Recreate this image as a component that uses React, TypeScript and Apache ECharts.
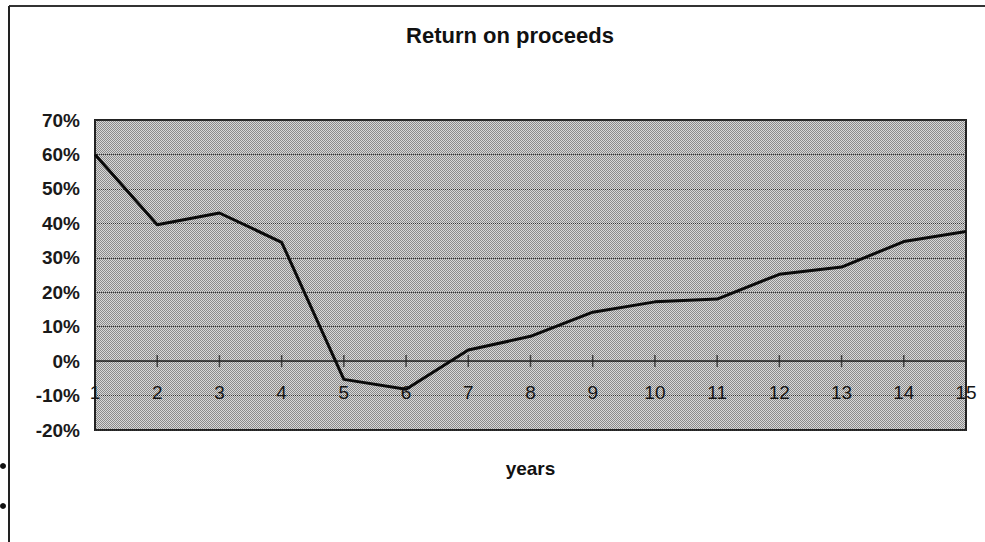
import React, { useEffect, useRef } from "react";
import * as echarts from "echarts";

const years = ["1", "2", "3", "4", "5", "6", "7", "8", "9", "10", "11", "12", "13", "14", "15"];
const returnOnProceeds = [60, 39.6, 43, 34.5, -5.3, -8.2, 3.2, 7.2, 14.2, 17.2, 18, 25.2, 27.3, 34.7, 37.6];
const yMin = -20;
const yMax = 70;
const yStep = 10;

function makePattern(): HTMLCanvasElement {
  const c = document.createElement("canvas");
  c.width = 2;
  c.height = 2;
  const ctx = c.getContext("2d")!;
  ctx.fillStyle = "#d8d8d8";
  ctx.fillRect(0, 0, 2, 2);
  ctx.fillStyle = "#8a8a8a";
  ctx.fillRect(0, 0, 1, 1);
  ctx.fillRect(1, 1, 1, 1);
  return c;
}

export default function App() {
  const ref = useRef<HTMLDivElement>(null);
  useEffect(() => {
    if (!ref.current) return;
    const chart = echarts.init(ref.current, undefined, { renderer: "svg" });
    const font = "Liberation Sans, Arial, sans-serif";
    const tickData = years.map((y) => [y, 0]);
    chart.setOption({
      animation: false,
      backgroundColor: "#ffffff",
      title: {
        text: "Return on proceeds",
        left: 505,
        textAlign: "center",
        top: 19,
        textStyle: { fontFamily: font, fontSize: 22, fontWeight: "bold", color: "#111" },
      },
      grid: {
        left: 95,
        right: 19,
        top: 120,
        bottom: 112,
        show: true,
        outerBoundsMode: "none",
        containLabel: false,
        backgroundColor: { image: makePattern(), repeat: "repeat" },
        borderColor: "#222",
        borderWidth: 2,
      },
      xAxis: {
        type: "category",
        data: years,
        boundaryGap: false,
        position: "bottom",
        name: "years",
        nameLocation: "middle",
        nameGap: 29,
        nameTextStyle: { fontFamily: font, fontSize: 19, fontWeight: "bold", color: "#111" },
        axisLine: { onZero: false, show: false },
        axisTick: { show: false },
        axisLabel: { margin: -47, fontFamily: font, fontSize: 19, color: "#151515", interval: 0 },
        splitLine: { show: false },
      },
      yAxis: {
        type: "value",
        min: yMin,
        max: yMax,
        interval: yStep,
        axisLine: { show: false },
        axisTick: { show: false },
        axisLabel: {
          formatter: "{value}%",
          margin: 15,
          fontFamily: font,
          fontSize: 19,
          fontWeight: "bold",
          color: "#1a1a1a",
        },
        splitLine: { show: true, lineStyle: { color: "#333", type: "dotted", width: 1 } },
      },
      series: [
        {
          type: "scatter",
          data: tickData,
          symbol: "rect",
          symbolSize: [1.5, 12],
          itemStyle: { color: "#222" },
          silent: true,
          z: 3,
          markLine: {
            silent: true,
            symbol: "none",
            label: { show: false },
            lineStyle: { color: "#222", type: "solid", width: 1.5 },
            data: [{ yAxis: 0 }],
          },
        },
        {
          type: "line",
          data: returnOnProceeds,
          symbol: "none",
          lineStyle: { color: "#0a0a0a", width: 3 },
          z: 5,
        },
      ],
      graphic: [
        { type: "line", shape: { x1: 9, y1: 6, x2: 985, y2: 6 }, style: { stroke: "#333", lineWidth: 2 } },
        { type: "line", shape: { x1: 9, y1: 6, x2: 9, y2: 542 }, style: { stroke: "#222", lineWidth: 2 } },
        { type: "circle", shape: { cx: 3, cy: 466, r: 3 }, style: { fill: "#111" } },
        { type: "circle", shape: { cx: 3, cy: 506, r: 3 }, style: { fill: "#111" } },
      ],
    });
    return () => chart.dispose();
  }, []);
  return <div ref={ref} style={{ width: 985, height: 542, position: "absolute", left: 0, top: 0 }} />;
}
